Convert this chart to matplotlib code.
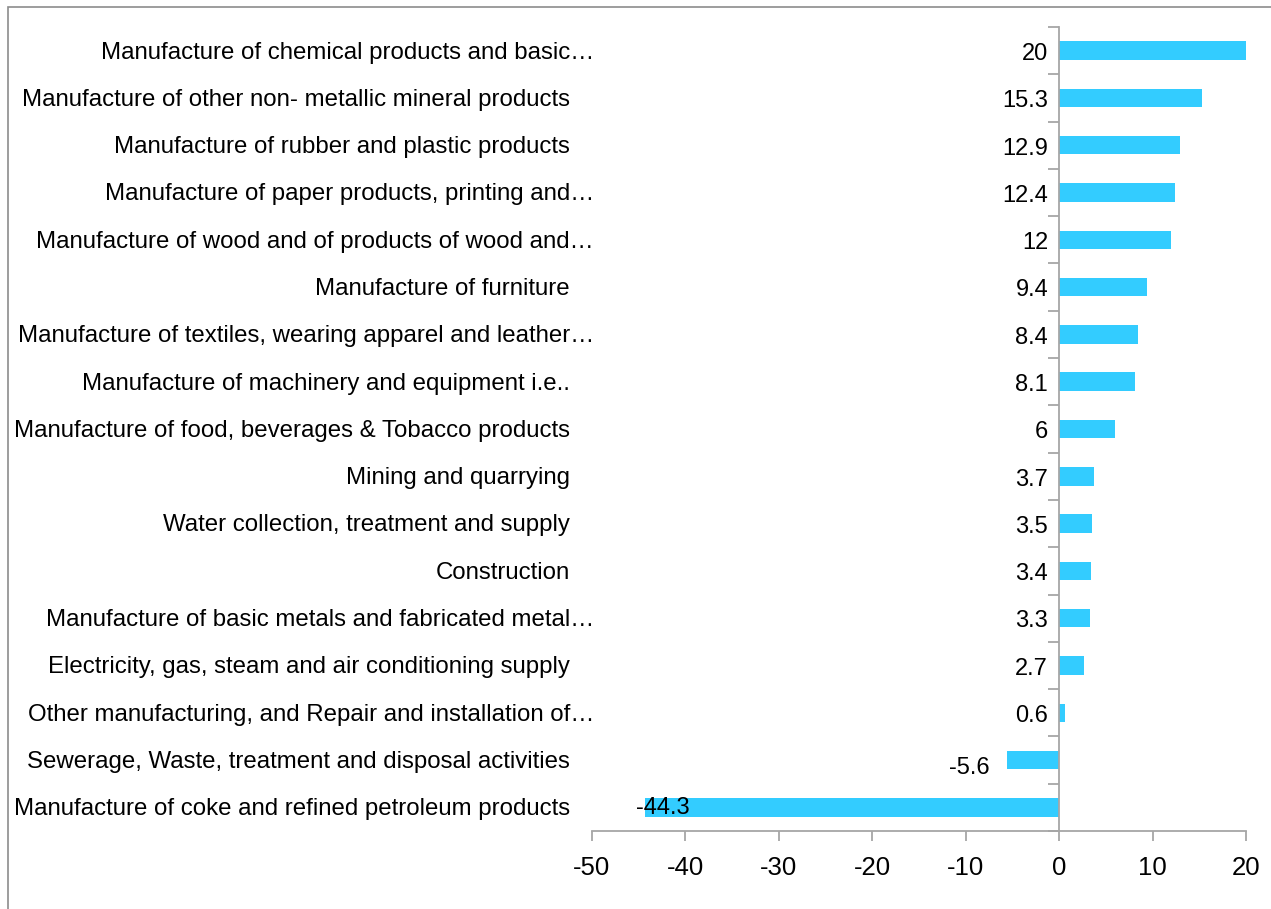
import matplotlib
matplotlib.use("Agg")
import matplotlib.pyplot as plt
import matplotlib.patches as mpatches
import matplotlib.transforms as mtransforms

plt.rcParams['font.family'] = ['Liberation Sans', 'DejaVu Sans']

categories = [
    "Manufacture of chemical products and basic…",
    "Manufacture of other non- metallic mineral products",
    "Manufacture of rubber and plastic products",
    "Manufacture of paper products, printing and…",
    "Manufacture of wood and of products of wood and…",
    "Manufacture of furniture",
    "Manufacture of textiles, wearing apparel and leather…",
    "Manufacture of machinery and equipment i.e..",
    "Manufacture of food, beverages & Tobacco products",
    "Mining and quarrying",
    "Water collection, treatment and supply",
    "Construction",
    "Manufacture of basic metals and fabricated metal…",
    "Electricity, gas, steam and air conditioning supply",
    "Other manufacturing, and Repair and installation of…",
    "Sewerage, Waste, treatment and disposal activities",
    "Manufacture of coke and refined petroleum products",
]
values = [20, 15.3, 12.9, 12.4, 12, 9.4, 8.4, 8.1, 6, 3.7, 3.5, 3.4, 3.3, 2.7, 0.6, -5.6, -44.3]
value_labels = ["20", "15.3", "12.9", "12.4", "12", "9.4", "8.4", "8.1", "6", "3.7", "3.5",
                "3.4", "3.3", "2.7", "0.6", "-5.6", "-44.3"]
xticks = [-50, -40, -30, -20, -10, 0, 10, 20]

W, H = 1271, 909
fig = plt.figure(figsize=(W / 100, H / 100), dpi=100)
ax = fig.add_axes([592 / W, 1 - 831 / H, (1246 - 592) / W, (831 - 27) / H])

n = len(categories)
ypos = list(range(n))
ax.barh(ypos, values, height=0.39, color="#33CCFF", zorder=2)
ax.set_ylim(n - 0.5, -0.5)
ax.set_xlim(-50, 20)

gray = "#A6A6A6"
for s in ["top", "right"]:
    ax.spines[s].set_visible(False)
ax.spines["left"].set_position(("data", 0))
ax.spines["left"].set_color(gray)
ax.spines["bottom"].set_color(gray)
ax.spines["left"].set_linewidth(1.3)
ax.spines["bottom"].set_linewidth(1.3)

ax.set_yticks([i - 0.5 for i in range(n + 1)])
ax.set_yticklabels([])
ax.tick_params(axis="y", direction="out", length=8, color=gray, width=1.3)
ax.set_xticks(xticks)
ax.set_xticklabels([str(t) for t in xticks], fontsize=18.5)
ax.tick_params(axis="x", direction="out", length=7, color=gray, width=1.3, pad=11)

# category labels
fig_blend = mtransforms.blended_transform_factory(fig.transFigure, ax.transData)
for i, c in enumerate(categories):
    xr = 594 / W if c.endswith("…") else 570 / W
    ax.text(xr, i + 0.04, c, transform=fig_blend, ha="right", va="center", fontsize=17.3, color="black")

# value labels
for i, (v, lab) in enumerate(zip(values, value_labels)):
    if v >= 0:
        tr = mtransforms.offset_copy(ax.transData, fig=fig, x=-11, y=0, units="dots")
        ax.text(0, i + 0.07, lab, transform=tr, ha="right", va="center", fontsize=17, zorder=3)
    elif v > -20:
        tr = mtransforms.offset_copy(ax.transData, fig=fig, x=-17, y=0, units="dots")
        ax.text(v, i + 0.17, lab, transform=tr, ha="right", va="center", fontsize=17, zorder=3)
    else:
        tr = mtransforms.offset_copy(ax.transData, fig=fig, x=-9, y=0, units="dots")
        ax.text(v, i + 0.02, lab, transform=tr, ha="left", va="center", fontsize=17, zorder=3)

# outer frame
frame = mpatches.Rectangle((8 / W, -0.5), 2.0, (1 - 7 / H) + 0.5, transform=fig.transFigure,
                           fill=False, edgecolor="#8C8C8C", linewidth=1.2, clip_on=False)
fig.patches.append(frame)

fig.savefig("out.png", dpi=100)
